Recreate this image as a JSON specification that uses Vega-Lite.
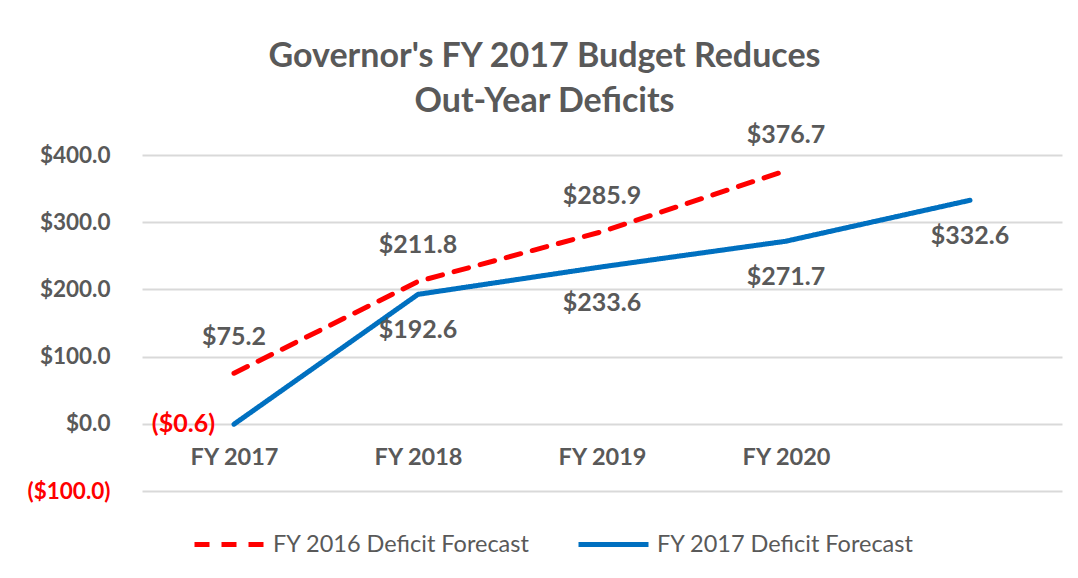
{
  "$schema": "https://vega.github.io/schema/vega-lite/v6.json",
  "width": 920,
  "height": 336,
  "autosize": {"type": "none"},
  "padding": {"left": 142, "top": 155, "right": 16, "bottom": 87},
  "background": "white",
  "title": {
    "text": ["Governor's FY 2017 Budget Reduces", "Out-Year Deficits"],
    "font": "Lato",
    "fontSize": 34,
    "fontWeight": "bold",
    "color": "#595959",
    "anchor": "middle",
    "frame": "bounds",
    "lineHeight": 45,
    "offset": 4
  },
  "config": {"view": {"stroke": null}},
  "data": {
    "values": [
      {"year": "FY 2017", "series": "FY 2016 Deficit Forecast", "value": 75.2},
      {"year": "FY 2018", "series": "FY 2016 Deficit Forecast", "value": 211.8},
      {"year": "FY 2019", "series": "FY 2016 Deficit Forecast", "value": 285.9},
      {"year": "FY 2020", "series": "FY 2016 Deficit Forecast", "value": 376.7},
      {"year": "FY 2017", "series": "FY 2017 Deficit Forecast", "value": -0.6},
      {"year": "FY 2018", "series": "FY 2017 Deficit Forecast", "value": 192.6},
      {"year": "FY 2019", "series": "FY 2017 Deficit Forecast", "value": 233.6},
      {"year": "FY 2020", "series": "FY 2017 Deficit Forecast", "value": 271.7},
      {"year": "FY 2021", "series": "FY 2017 Deficit Forecast", "value": 332.6}
    ]
  },
  "encoding": {
    "x": {
      "field": "year",
      "type": "nominal",
      "sort": ["FY 2017", "FY 2018", "FY 2019", "FY 2020", "FY 2021"],
      "scale": {"type": "point", "padding": 0.5},
      "axis": {
        "title": null,
        "orient": "bottom",
        "offset": -67.2,
        "domain": false,
        "ticks": false,
        "grid": false,
        "labelAngle": 0,
        "labelFont": "Lato",
        "labelFontSize": 23.5,
        "labelFontWeight": "bold",
        "labelColor": "#595959",
        "labelPadding": 22,
        "labelExpr": "datum.value == 'FY 2021' ? '' : datum.value"
      }
    },
    "y": {
      "field": "value",
      "type": "quantitative",
      "scale": {"domain": [-100, 400], "nice": false, "zero": false},
      "axis": {
        "title": null,
        "values": [-100, 0, 100, 200, 300, 400],
        "format": "($.1f",
        "domain": false,
        "ticks": false,
        "grid": true,
        "gridColor": "#D9D9D9",
        "gridWidth": 2,
        "labelFont": "Lato",
        "labelFontSize": 22.5,
        "labelFontWeight": "bold",
        "labelColor": {"condition": {"test": "datum.value < 0", "value": "#FF0000"}, "value": "#595959"},
        "labelPadding": 32
      }
    }
  },
  "layer": [
    {
      "mark": {"type": "line", "strokeWidth": 5, "interpolate": "linear", "strokeCap": "round", "strokeJoin": "round"},
      "encoding": {
        "color": {
          "field": "series",
          "type": "nominal",
          "scale": {"domain": ["FY 2016 Deficit Forecast", "FY 2017 Deficit Forecast"], "range": ["#FF0000", "#0070C0"]},
          "legend": {
            "orient": "none",
            "legendX": 50,
            "legendY": 352,
            "direction": "horizontal",
            "title": null,
            "symbolType": "stroke",
            "symbolSize": 4900,
            "symbolStrokeWidth": 5,
            "labelFont": "Lato",
            "labelFontSize": 23.5,
            "labelLimit": 400,
            "labelColor": "#595959",
            "labelOffset": 6,
            "columnPadding": 38,
            "padding": 0
          }
        },
        "strokeDash": {
          "field": "series",
          "type": "nominal",
          "scale": {"domain": ["FY 2016 Deficit Forecast", "FY 2017 Deficit Forecast"], "range": [[15, 12], [1, 0]]},
          "legend": {
            "orient": "none",
            "legendX": 50,
            "legendY": 352,
            "direction": "horizontal",
            "title": null,
            "symbolType": "stroke",
            "symbolSize": 4900,
            "symbolStrokeWidth": 5,
            "labelFont": "Lato",
            "labelFontSize": 23.5,
            "labelLimit": 400,
            "labelColor": "#595959",
            "labelOffset": 6,
            "columnPadding": 38,
            "padding": 0
          }
        }
      }
    },
    {
      "transform": [{"filter": "datum.series == 'FY 2016 Deficit Forecast'"}],
      "mark": {"type": "text", "dy": -36, "font": "Lato", "fontSize": 25, "fontWeight": "bold", "color": "#595959"},
      "encoding": {"text": {"field": "value", "type": "quantitative", "format": "($.1f"}}
    },
    {
      "transform": [{"filter": "datum.series == 'FY 2017 Deficit Forecast' && datum.value >= 0"}],
      "mark": {"type": "text", "dy": 36, "font": "Lato", "fontSize": 25, "fontWeight": "bold", "color": "#595959"},
      "encoding": {"text": {"field": "value", "type": "quantitative", "format": "($.1f"}}
    },
    {
      "transform": [{"filter": "datum.series == 'FY 2017 Deficit Forecast' && datum.value < 0"}],
      "mark": {"type": "text", "align": "right", "dx": -19, "font": "Lato", "fontSize": 25, "fontWeight": "bold", "color": "#FF0000"},
      "encoding": {"text": {"field": "value", "type": "quantitative", "format": "($.1f"}}
    }
  ]
}
